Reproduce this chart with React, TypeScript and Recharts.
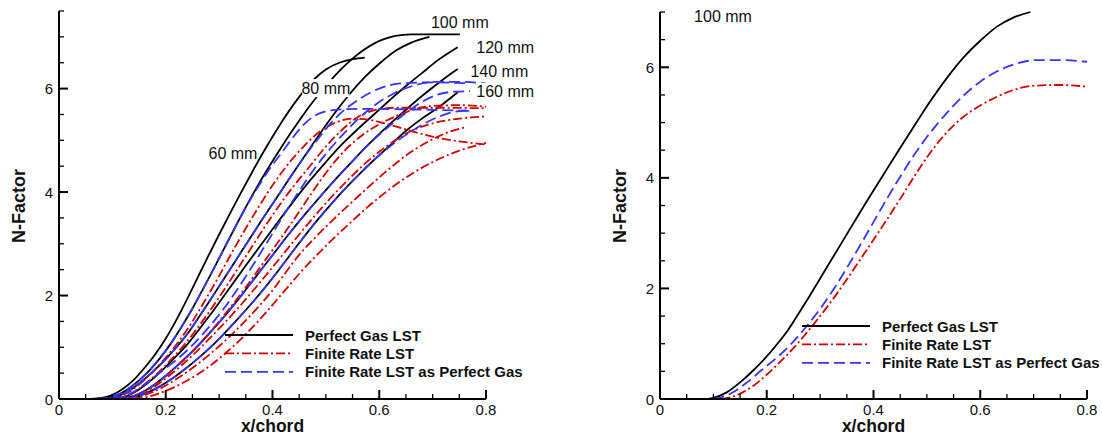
import React from "react";
import { LineChart, Line, XAxis, YAxis, Legend, ReferenceDot, ReferenceLine, Label } from "recharts";

// [x/chord, N-factor] pairs
const perfect60 = [[0.06,0],[0.08,0.02],[0.1,0.08],[0.12,0.2],[0.14,0.37],[0.16,0.6],[0.18,0.86],[0.2,1.17],[0.22,1.53],[0.24,1.93],[0.26,2.35],[0.28,2.77],[0.3,3.18],[0.32,3.58],[0.34,3.97],[0.36,4.35],[0.38,4.72],[0.4,5.07],[0.42,5.4],[0.44,5.7],[0.46,5.97],[0.48,6.2],[0.5,6.37],[0.525,6.5],[0.55,6.57],[0.573,6.6]];
const perfect80 = [[0.07,0],[0.09,0.02],[0.11,0.08],[0.13,0.2],[0.15,0.36],[0.17,0.56],[0.19,0.8],[0.21,1.08],[0.23,1.4],[0.25,1.75],[0.27,2.13],[0.29,2.52],[0.31,2.92],[0.33,3.32],[0.35,3.71],[0.37,4.08],[0.39,4.43],[0.41,4.76],[0.43,5.08],[0.45,5.38],[0.47,5.67],[0.49,5.93],[0.51,6.17],[0.53,6.39],[0.55,6.58],[0.57,6.74],[0.59,6.87],[0.61,6.96],[0.63,7.02],[0.66,7.05],[0.751,7.05]];
const perfect100 = [[0.09,0],[0.1,0.02],[0.125,0.12],[0.15,0.3],[0.175,0.52],[0.2,0.77],[0.22,1.0],[0.24,1.25],[0.26,1.55],[0.28,1.86],[0.3,2.18],[0.32,2.5],[0.34,2.82],[0.36,3.14],[0.38,3.46],[0.4,3.77],[0.42,4.08],[0.444,4.45],[0.475,4.92],[0.506,5.38],[0.537,5.8],[0.568,6.17],[0.6,6.48],[0.632,6.74],[0.66,6.89],[0.694,7.0]];
const perfect120 = [[0.1,0],[0.12,0.03],[0.14,0.12],[0.165,0.3],[0.19,0.52],[0.215,0.78],[0.24,1.05],[0.265,1.38],[0.29,1.72],[0.32,2.15],[0.35,2.58],[0.38,3.0],[0.41,3.42],[0.44,3.83],[0.47,4.22],[0.5,4.58],[0.53,4.92],[0.56,5.22],[0.59,5.5],[0.62,5.78],[0.65,6.05],[0.68,6.3],[0.71,6.55],[0.747,6.8]];
const perfect140 = [[0.11,0],[0.13,0.03],[0.15,0.1],[0.175,0.25],[0.2,0.45],[0.225,0.68],[0.25,0.92],[0.28,1.25],[0.31,1.6],[0.34,1.98],[0.37,2.38],[0.4,2.78],[0.43,3.18],[0.46,3.56],[0.49,3.92],[0.52,4.27],[0.55,4.6],[0.58,4.92],[0.61,5.22],[0.64,5.5],[0.67,5.77],[0.7,6.02],[0.725,6.22],[0.747,6.38]];
const perfect160 = [[0.12,0],[0.14,0.03],[0.16,0.1],[0.185,0.22],[0.21,0.38],[0.235,0.57],[0.26,0.78],[0.29,1.06],[0.32,1.38],[0.35,1.72],[0.38,2.08],[0.41,2.47],[0.44,2.88],[0.47,3.28],[0.5,3.65],[0.53,4.0],[0.56,4.32],[0.59,4.62],[0.62,4.9],[0.652,5.2],[0.68,5.42],[0.71,5.63],[0.747,5.93]];

const finite60 = [[0.09,0],[0.11,0.04],[0.13,0.13],[0.15,0.28],[0.175,0.52],[0.2,0.8],[0.225,1.12],[0.25,1.5],[0.275,1.93],[0.3,2.38],[0.325,2.85],[0.35,3.3],[0.375,3.73],[0.4,4.13],[0.43,4.55],[0.46,4.9],[0.49,5.18],[0.52,5.35],[0.55,5.42],[0.58,5.4],[0.62,5.3],[0.66,5.18],[0.7,5.07],[0.75,4.98],[0.8,4.92]];
const finite80 = [[0.1,0],[0.12,0.04],[0.14,0.13],[0.16,0.28],[0.185,0.5],[0.21,0.76],[0.235,1.05],[0.26,1.38],[0.285,1.74],[0.31,2.12],[0.335,2.52],[0.36,2.92],[0.385,3.32],[0.41,3.7],[0.44,4.12],[0.47,4.5],[0.5,4.88],[0.53,5.2],[0.56,5.45],[0.59,5.58],[0.63,5.63],[0.7,5.63],[0.8,5.62]];
const finite100 = [[0.115,0],[0.135,0.04],[0.155,0.12],[0.175,0.24],[0.2,0.44],[0.225,0.67],[0.25,0.92],[0.275,1.2],[0.3,1.5],[0.325,1.82],[0.35,2.16],[0.375,2.52],[0.4,2.88],[0.426,3.26],[0.45,3.62],[0.478,4.05],[0.506,4.45],[0.537,4.82],[0.568,5.1],[0.6,5.31],[0.632,5.47],[0.66,5.58],[0.694,5.66],[0.75,5.68],[0.8,5.65]];
const finite120 = [[0.12,0],[0.14,0.04],[0.16,0.12],[0.185,0.28],[0.21,0.48],[0.235,0.7],[0.26,0.94],[0.285,1.2],[0.31,1.47],[0.335,1.75],[0.36,2.05],[0.39,2.42],[0.42,2.8],[0.45,3.18],[0.48,3.55],[0.51,3.9],[0.54,4.22],[0.57,4.52],[0.6,4.78],[0.63,5.0],[0.66,5.18],[0.7,5.33],[0.75,5.42],[0.8,5.46]];
const finite140 = [[0.13,0],[0.15,0.04],[0.175,0.13],[0.2,0.26],[0.225,0.42],[0.25,0.6],[0.275,0.8],[0.3,1.02],[0.325,1.26],[0.35,1.52],[0.375,1.8],[0.4,2.1],[0.425,2.45],[0.451,2.8],[0.48,3.12],[0.51,3.43],[0.545,3.77],[0.58,4.1],[0.62,4.46],[0.66,4.78],[0.7,5.02],[0.73,5.16],[0.764,5.26]];
const finite160 = [[0.14,0],[0.16,0.03],[0.185,0.1],[0.21,0.2],[0.235,0.33],[0.26,0.48],[0.285,0.66],[0.31,0.87],[0.335,1.1],[0.36,1.36],[0.385,1.64],[0.41,1.94],[0.43,2.18],[0.451,2.43],[0.48,2.75],[0.51,3.06],[0.545,3.4],[0.577,3.7],[0.61,3.98],[0.64,4.21],[0.67,4.41],[0.7,4.58],[0.75,4.8],[0.8,4.95]];

const asPerfect60 = [[0.07,0],[0.09,0.02],[0.11,0.08],[0.13,0.2],[0.15,0.36],[0.17,0.56],[0.19,0.8],[0.21,1.08],[0.23,1.4],[0.25,1.75],[0.27,2.13],[0.29,2.52],[0.31,2.92],[0.33,3.32],[0.35,3.7],[0.37,4.05],[0.39,4.38],[0.42,4.8],[0.44,5.08],[0.46,5.32],[0.48,5.48],[0.5,5.56],[0.53,5.6],[0.58,5.61],[0.65,5.6],[0.77,5.57]];
const asPerfect80 = [[0.09,0],[0.1,0.02],[0.125,0.12],[0.15,0.3],[0.175,0.52],[0.2,0.77],[0.22,1.0],[0.24,1.25],[0.26,1.55],[0.28,1.86],[0.3,2.18],[0.32,2.5],[0.34,2.82],[0.36,3.14],[0.38,3.46],[0.4,3.77],[0.42,4.08],[0.444,4.45],[0.483,5.0],[0.52,5.45],[0.56,5.78],[0.6,6.0],[0.64,6.1],[0.7,6.12],[0.77,6.1]];
const asPerfect100 = [[0.1,0],[0.115,0.03],[0.14,0.14],[0.163,0.3],[0.19,0.52],[0.225,0.8],[0.25,1.04],[0.275,1.32],[0.3,1.63],[0.325,1.98],[0.35,2.37],[0.375,2.78],[0.4,3.2],[0.425,3.62],[0.45,4.02],[0.475,4.4],[0.505,4.8],[0.538,5.18],[0.57,5.5],[0.6,5.74],[0.63,5.92],[0.662,6.05],[0.707,6.13],[0.75,6.13],[0.8,6.1]];
const asPerfect120 = [[0.11,0],[0.13,0.03],[0.15,0.1],[0.175,0.25],[0.2,0.45],[0.225,0.68],[0.25,0.92],[0.28,1.25],[0.31,1.6],[0.34,1.98],[0.37,2.38],[0.4,2.78],[0.43,3.18],[0.46,3.56],[0.49,3.92],[0.52,4.27],[0.55,4.6],[0.58,4.92],[0.61,5.2],[0.64,5.45],[0.67,5.68],[0.708,5.88],[0.74,5.94],[0.77,5.95]];
const asPerfect140 = [[0.12,0],[0.14,0.03],[0.16,0.1],[0.185,0.22],[0.21,0.38],[0.235,0.57],[0.26,0.78],[0.29,1.06],[0.32,1.38],[0.35,1.72],[0.38,2.08],[0.41,2.47],[0.44,2.88],[0.47,3.28],[0.5,3.65],[0.53,4.0],[0.56,4.32],[0.59,4.62],[0.62,4.88],[0.652,5.12],[0.68,5.3],[0.71,5.45],[0.74,5.55],[0.77,5.58]];

const xMinorTicks = [0, 0.05, 0.1, 0.15, 0.2, 0.25, 0.3, 0.35, 0.4, 0.45, 0.5, 0.55, 0.6, 0.65, 0.7, 0.75, 0.8];
const xMajorTicks = [0, 0.2, 0.4, 0.6, 0.8];
const leftYMinor = [0, 0.5, 1, 1.5, 2, 2.5, 3, 3.5, 4, 4.5, 5, 5.5, 6, 6.5, 7, 7.5];
const rightYMinor = [0, 0.5, 1, 1.5, 2, 2.5, 3, 3.5, 4, 4.5, 5, 5.5, 6, 6.5, 7];
const yMajorTicks = [0, 2, 4, 6];

const leftNotes = [
  { text: "60 mm", x: 0.326, y: 4.75 },
  { text: "80 mm", x: 0.5, y: 6.01 },
  { text: "100 mm", x: 0.751, y: 7.27 },
  { text: "120 mm", x: 0.836, y: 6.79 },
  { text: "140 mm", x: 0.825, y: 6.34 },
  { text: "160 mm", x: 0.836, y: 5.94 },
];
const rightNotes = [{ text: "100 mm", x: 0.118, y: 6.91 }];

const legendNames = ["Perfect Gas LST", "Finite Rate LST", "Finite Rate LST as Perfect Gas"];

const FONT = '"Liberation Sans", Arial, Helvetica, sans-serif';
const STYLES = [
  { stroke: "#000000", dash: undefined as string | undefined },
  { stroke: "#d40000", dash: "9 3 2 3" },
  { stroke: "#3434ff", dash: "11 5" },
];

const PLOT_W = 427; // px across 0..0.8
const PLOT_H = 388; // px across the y range

const pts = (a: number[][]) => a.map(([x, y]) => ({ x, y }));
const has = (list: number[], v: number) => list.some((m) => Math.abs(m - v) < 1e-6);

const leftSeries = [
  ...[perfect60, perfect80, perfect100, perfect120, perfect140, perfect160].map((d) => ({ d, k: 0 })),
  ...[finite60, finite80, finite100, finite120, finite140, finite160].map((d) => ({ d, k: 1 })),
  ...[asPerfect60, asPerfect80, asPerfect100, asPerfect120, asPerfect140].map((d) => ({ d, k: 2 })),
];
const rightSeries = [
  { d: perfect100, k: 0 },
  { d: finite100, k: 1 },
  { d: asPerfect100, k: 2 },
];

const YLabel = (props: any) => (
  <text x={props.x - 6} y={props.y + 5.5} textAnchor="end" fontSize={15} fill="#111" fontFamily={FONT}>
    {props.payload.value}
  </text>
);

const XLabel = (props: any) => (
  <text x={props.x} y={props.y + 16} textAnchor="middle" fontSize={15} fill="#111" fontFamily={FONT}>
    {props.payload.value === 0 ? "0" : props.payload.value.toFixed(1)}
  </text>
);

const Note = (props: any) => {
  const { viewBox, text } = props;
  const cx = viewBox.x + viewBox.width / 2;
  const cy = viewBox.y + viewBox.height / 2;
  const w = text.length * 8.7;
  return (
    <g>
      <rect x={cx - w / 2 - 2} y={cy - 9} width={w + 4} height={18} fill="#fff" />
      <text x={cx} y={cy + 5.5} textAnchor="middle" fontSize={16} fill="#111" fontFamily={FONT}>
        {text}
      </text>
    </g>
  );
};

const LegendBox = () => (
  <svg width={340} height={60} style={{ overflow: "visible" }}>
    {legendNames.map((name, i) => (
      <g key={name}>
        <line x1={0} x2={68} y1={10 + i * 18.4} y2={10 + i * 18.4} stroke={STYLES[i].stroke} strokeWidth={1.8} strokeDasharray={STYLES[i].dash} />
        <text x={80} y={15.5 + i * 18.4} fontSize={15} fontWeight="bold" fill="#111" fontFamily={FONT}>
          {name}
        </text>
      </g>
    ))}
  </svg>
);

type PanelProps = {
  width: number;
  margin: { top: number; right: number; bottom: number; left: number };
  yMax: number;
  yMinor: number[];
  series: { d: number[][]; k: number }[];
  notes: { text: string; x: number; y: number }[];
  legendAt: { left: number; top: number };
};

const Panel = ({ width, margin, yMax, yMinor, series, notes, legendAt }: PanelProps) => {
  // inward tick marks, lengths in px turned into data units
  const dx = 0.8 / PLOT_W;
  const dy = yMax / PLOT_H;
  return (
    <LineChart width={width} height={435} margin={margin} style={{ fontFamily: FONT }}>
      <XAxis
        dataKey="x"
        type="number"
        domain={[0, 0.8]}
        ticks={xMajorTicks}
        interval={0}
        tick={<XLabel />}
        tickSize={0}
        tickMargin={0}
        tickLine={false}
        axisLine={{ stroke: "#000", strokeWidth: 2 }}
        height={30}
      >
        <Label
          content={(p: any) => (
            <text x={p.viewBox.x + p.viewBox.width / 2} y={432} textAnchor="middle" fontSize={17.5} fontWeight="bold" fill="#111" fontFamily={FONT}>
              x/chord
            </text>
          )}
        />
      </XAxis>
      <YAxis
        dataKey="y"
        type="number"
        domain={[0, yMax]}
        ticks={yMajorTicks}
        interval={0}
        tick={<YLabel />}
        tickSize={0}
        tickMargin={0}
        tickLine={false}
        axisLine={{ stroke: "#000", strokeWidth: 2 }}
        width={40}
      >
        <Label
          content={(p: any) => {
            const tx = p.viewBox.x + p.viewBox.width - 34;
            const ty = 206;
            return (
              <text x={tx} y={ty} transform={`rotate(-90 ${tx} ${ty})`} textAnchor="middle" fontSize={18} fontWeight="bold" fill="#111" fontFamily={FONT}>
                N-Factor
              </text>
            );
          }}
        />
      </YAxis>
      <Legend
        layout="horizontal"
        align="center"
        verticalAlign="middle"
        content={() => <LegendBox />}
        wrapperStyle={{ left: legendAt.left, top: legendAt.top, width: 340, height: 60 }}
      />
      {series.map((s, i) => (
        <Line
          key={i}
          data={pts(s.d)}
          dataKey="y"
          type="monotone"
          stroke={STYLES[s.k].stroke}
          strokeDasharray={STYLES[s.k].dash}
          strokeWidth={1.8}
          dot={false}
          activeDot={false}
          isAnimationActive={false}
        />
      ))}
      {xMinorTicks.map((v) => {
        const major = has(xMajorTicks, v);
        return (
          <ReferenceLine
            key={`xt${v}`}
            segment={[{ x: v, y: 0 }, { x: v, y: (major ? 9 : 5) * dy }]}
            stroke="#000"
            strokeWidth={major ? 2 : 1.3}
            ifOverflow="visible"
          />
        );
      })}
      {yMinor.map((v) => {
        const major = has(yMajorTicks, v);
        return (
          <ReferenceLine
            key={`yt${v}`}
            segment={[{ x: 0, y: v }, { x: (major ? 9 : 5) * dx, y: v }]}
            stroke="#000"
            strokeWidth={major ? 2 : 1.3}
            ifOverflow="visible"
          />
        );
      })}
      {notes.map((n) => (
        <ReferenceDot
          key={n.text}
          x={n.x}
          y={n.y}
          r={1}
          fill="none"
          stroke="none"
          ifOverflow="visible"
          label={(p: any) => <Note {...p} text={n.text} />}
        />
      ))}
    </LineChart>
  );
};

export default function App() {
  return (
    <div style={{ position: "absolute", left: 0, top: 0, width: 1102, height: 435, background: "#fff", fontFamily: FONT }}>
      <div style={{ position: "absolute", left: 0, top: 0 }}>
        <Panel
          width={550}
          margin={{ top: 11, right: 64, bottom: 6, left: 19 }}
          yMax={7.5}
          yMinor={leftYMinor}
          series={leftSeries}
          notes={leftNotes}
          legendAt={{ left: 225, top: 325 }}
        />
      </div>
      <div style={{ position: "absolute", left: 550, top: 0 }}>
        <Panel
          width={552}
          margin={{ top: 12, right: 15, bottom: 6, left: 70 }}
          yMax={7}
          yMinor={rightYMinor}
          series={rightSeries}
          notes={rightNotes}
          legendAt={{ left: 252, top: 316 }}
        />
      </div>
    </div>
  );
}
